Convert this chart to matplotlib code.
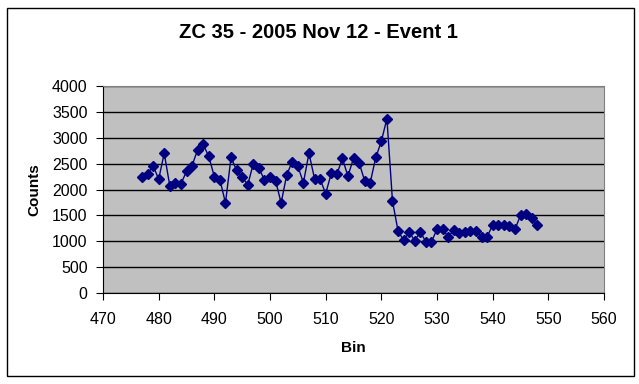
import matplotlib
matplotlib.use("Agg")
import matplotlib.pyplot as plt
from matplotlib.patches import Rectangle

plt.rcParams['font.family'] = ['Liberation Sans', 'DejaVu Sans']

bins = list(range(477, 549))
counts = [2240, 2290, 2460, 2200, 2700, 2070, 2130, 2110, 2350, 2460,
          2770, 2870, 2640, 2250, 2190, 1740, 2620, 2370, 2240, 2090,
          2500, 2420, 2180, 2240, 2170, 1740, 2280, 2540, 2450, 2130,
          2700, 2210, 2200, 1920, 2310, 2290, 2600, 2260, 2600, 2520,
          2170, 2130, 2620, 2930, 3370, 1780, 1200, 1020, 1180, 1010,
          1180, 990, 990, 1230, 1230, 1090, 1210, 1160, 1180, 1190,
          1200, 1090, 1090, 1310, 1310, 1310, 1290, 1230, 1500, 1520,
          1450, 1310]

x_ticks = list(range(470, 561, 10))
y_ticks = list(range(0, 4001, 500))

fig = plt.figure(figsize=(6.39, 3.84), dpi=100)
fig.patches.append(Rectangle((7 / 639, 1 - 376 / 384), 627 / 639, 368 / 384,
                             transform=fig.transFigure, fill=False,
                             edgecolor='black', linewidth=1))

ax = fig.add_axes([103 / 639, 1 - 293 / 384, 501 / 639, 207 / 384])
ax.set_facecolor('#C0C0C0')
ax.plot(bins, counts, color='#000080', linewidth=1, marker='D',
        markersize=5, markerfacecolor='#000080', markeredgecolor='#000080')

ax.set_xlim(470, 560)
ax.set_ylim(0, 4000)
ax.set_xticks(x_ticks)
ax.set_yticks(y_ticks)
ax.yaxis.grid(True, color='black', linewidth=1)
ax.set_axisbelow(True)
ax.tick_params(direction='out', length=5, labelsize=11.5, colors='black')
ax.tick_params(axis='x', pad=9)
ax.tick_params(axis='y', pad=6)

for s in ['top', 'right']:
    ax.spines[s].set_color('#808080')
for s in ['left', 'bottom']:
    ax.spines[s].set_color('black')

ax.set_xlabel('Bin', fontsize=11, fontweight='bold', labelpad=10)
ax.set_ylabel('Counts', fontsize=11, fontweight='bold', labelpad=8)
fig.text(318 / 639, 1 - 33 / 384, 'ZC 35 - 2005 Nov 12 - Event 1',
         ha='center', va='center', fontsize=14.5, fontweight='bold')

fig.savefig('out.png', dpi=100)
